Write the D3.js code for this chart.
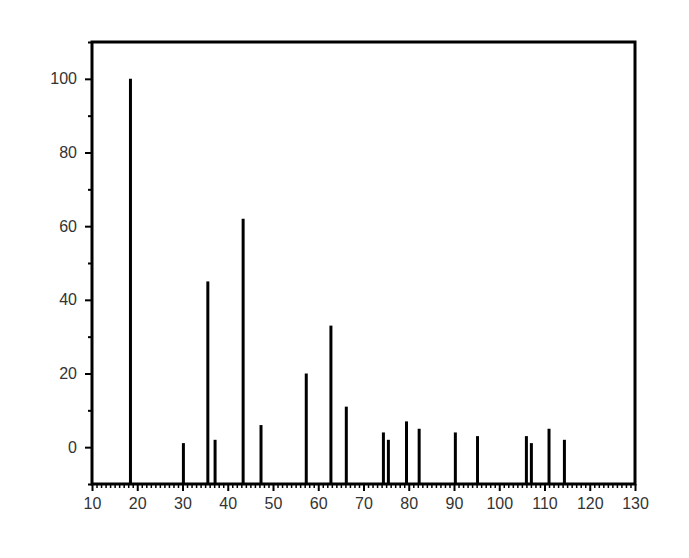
<!DOCTYPE html>
<html>
<head>
<meta charset="utf-8">
<script src="https://cdn.jsdelivr.net/npm/d3@7"></script>
<style>
  body { margin: 0; background: #fff; }
  text { font-family: "Liberation Sans", Arial, sans-serif; }
</style>
</head>
<body>
<div class="chart"></div>
<script>
// peak positions and intensities
const positions = [18.5, 30.2, 35.6, 37.2, 43.4, 47.35, 57.35, 62.8, 66.2, 74.4, 75.5, 79.5, 82.3, 90.3, 95.2, 106.0, 107.1, 111.0, 114.4]
const intensities = [100, 1.1, 45, 2, 62, 6, 20, 33, 11, 4, 2, 7, 5, 4, 3, 3, 1.1, 5, 2]
const xTicks = [10, 20, 30, 40, 50, 60, 70, 80, 90, 100, 110, 120, 130]
const yTicks = [0, 20, 40, 60, 80, 100]

const margin = {top: 42, right: 54, bottom: 74, left: 92},
    width = 689 - margin.left - margin.right,
    height = 558 - margin.top - margin.bottom

const data = positions.map(function(p, i) { return {x: p, y: intensities[i]} })

const x = d3.scaleLinear().domain([10, 130]).range([0, width])
const y = d3.scaleLinear().domain([-10, 110]).range([height, 0])

const svg = d3.select('.chart').append('svg')
    .attr('width', 689)
    .attr('height', 558)
  .append('g')
    .attr('transform', 'translate(' + margin.left + ',' + margin.top + ')')

// minor ticks
const xMinor = d3.range(10, 131, 1).filter(function(d) { return d % 10 !== 0 })
svg.append('g')
    .attr('transform', 'translate(0,' + height + ')')
    .call(d3.axisBottom(x).tickValues(xMinor).tickSize(4).tickFormat(''))
    .call(function(g) { g.select('.domain').remove() })
    .selectAll('line').attr('stroke', '#000').attr('stroke-width', 1.5)

const yMinor = [-10, 10, 30, 50, 70, 90, 110]
svg.append('g')
    .call(d3.axisLeft(y).tickValues(yMinor).tickSize(4).tickFormat(''))
    .call(function(g) { g.select('.domain').remove() })
    .selectAll('line').attr('stroke', '#000').attr('stroke-width', 2)

// major ticks
const xAxis = svg.append('g')
    .attr('transform', 'translate(0,' + height + ')')
    .call(d3.axisBottom(x).tickValues(xTicks).tickSize(7).tickPadding(7))
xAxis.select('.domain').remove()
xAxis.selectAll('line').attr('stroke', '#000').attr('stroke-width', 2)
xAxis.selectAll('text').attr('fill', '#333').style('font-size', '16px')

const yAxis = svg.append('g')
    .call(d3.axisLeft(y).tickValues(yTicks).tickSize(7).tickPadding(8))
yAxis.select('.domain').remove()
yAxis.selectAll('line').attr('stroke', '#000').attr('stroke-width', 2)
yAxis.selectAll('text').attr('fill', '#333').style('font-size', '16px')

// sticks
svg.selectAll('.stick')
    .data(data)
  .enter().append('line')
    .attr('class', 'stick')
    .attr('x1', function(d) { return x(d.x) })
    .attr('x2', function(d) { return x(d.x) })
    .attr('y1', y(-10))
    .attr('y2', function(d) { return y(d.y) })
    .attr('stroke', '#000')
    .attr('stroke-width', 3)

// frame
svg.append('rect')
    .attr('width', width)
    .attr('height', height)
    .attr('fill', 'none')
    .attr('stroke', '#000')
    .attr('stroke-width', 3)
</script>
</body>
</html>
